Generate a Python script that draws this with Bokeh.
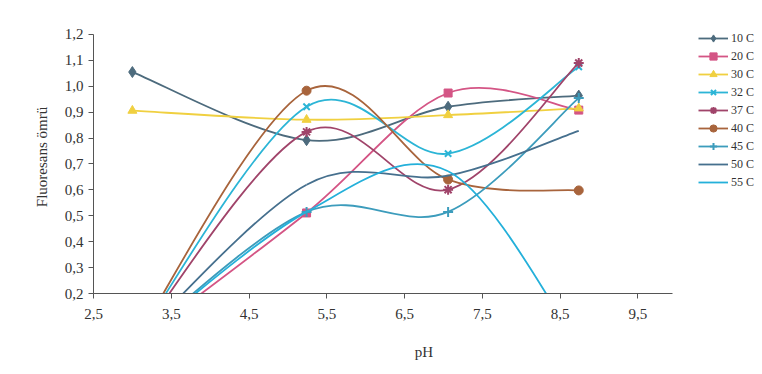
from bokeh.plotting import figure
from bokeh.models import Range1d, FixedTicker, Legend, LegendItem
from bokeh.embed import file_html
from bokeh.resources import INLINE

# ---- data ----
ph = [3.0, 5.24, 7.06, 8.74]
s10 = [1.055, 0.792, 0.921, 0.964]
s20 = [0.0, 0.511, 0.974, 0.908]
s30 = [0.906, 0.871, 0.889, 0.915]
s32 = [0.0, 0.921, 0.740, 1.075]
s37 = [0.0, 0.824, 0.601, 1.090]
s40 = [0.0, 0.983, 0.640, 0.598]
s45 = [0.0, 0.515, 0.515, 0.955]
s50 = [0.0, 0.620, 0.655, 0.828]
s55 = [0.0, 0.515, 0.672, 0.0]

series_names = ["10 C", "20 C", "30 C", "32 C", "37 C", "40 C", "45 C", "50 C", "55 C"]
series_values = [s10, s20, s30, s32, s37, s40, s45, s50, s55]

x_ticks = [2.5, 3.5, 4.5, 5.5, 6.5, 7.5, 8.5, 9.5]
x_tick_labels = ["2,5", "3,5", "4,5", "5,5", "6,5", "7,5", "8,5", "9,5"]
y_ticks = [0.2, 0.3, 0.4, 0.5, 0.6, 0.7, 0.8, 0.9, 1.0, 1.1, 1.2]
y_tick_labels = ["0,2", "0,3", "0,4", "0,5", "0,6", "0,7", "0,8", "0,9", "1,0", "1,1", "1,2"]

# ---- styles ----
colors = ["#4d6b7d", "#d45585", "#f0d040", "#2cb5d6", "#a0446a",
          "#a8643c", "#3c9cbc", "#46708e", "#24b0da"]
markers = ["diamond", "square", "triangle", "x", "asterisk", "circle", "cross", None, None]
msizes = [11, 8, 9, 9, 10, 9, 10, 0, 0]

FONT = "Liberation Serif"


def smooth_segments(xs, ys):
    """Excel-like smoothed line: cubic Bezier segments (Catmull-Rom, 1/6)."""
    n = len(xs)
    out = dict(x0=[], y0=[], x1=[], y1=[], cx0=[], cy0=[], cx1=[], cy1=[])
    for i in range(n - 1):
        pv = max(i - 1, 0)
        nx = min(i + 2, n - 1)
        out["x0"].append(xs[i]); out["y0"].append(ys[i])
        out["x1"].append(xs[i + 1]); out["y1"].append(ys[i + 1])
        out["cx0"].append(xs[i] + (xs[i + 1] - xs[pv]) / 6.0)
        out["cy0"].append(ys[i] + (ys[i + 1] - ys[pv]) / 6.0)
        out["cx1"].append(xs[i + 1] - (xs[nx] - xs[i]) / 6.0)
        out["cy1"].append(ys[i + 1] - (ys[nx] - ys[i]) / 6.0)
    return out


p = figure(width=754, height=366, output_backend="svg", toolbar_location=None,
           x_range=Range1d(2.5, 11.0), y_range=Range1d(0.2, 1.254),
           min_border_left=93, min_border_right=0, min_border_top=20, min_border_bottom=73)
p.outline_line_color = None
p.xgrid.visible = False
p.ygrid.visible = False
p.background_fill_color = "white"

items = []
for name, vals, c, m, ms in zip(series_names, series_values, colors, markers, msizes):
    seg = smooth_segments(ph, vals)
    r_line = p.bezier(x0=seg["x0"], y0=seg["y0"], x1=seg["x1"], y1=seg["y1"],
                      cx0=seg["cx0"], cy0=seg["cy0"], cx1=seg["cx1"], cy1=seg["cy1"],
                      line_color=c, line_width=1.8)
    rends = [r_line]
    if m is not None:
        if m in ("x", "cross", "asterisk"):
            r_m = p.scatter(ph, vals, marker=m, size=ms, line_color=c, line_width=2)
        else:
            r_m = p.scatter(ph, vals, marker=m, size=ms, fill_color=c, line_color=c)
        rends.append(r_m)
    items.append(LegendItem(label=name, renderers=rends))

legend = Legend(items=items, location=(605, 102), padding=0, margin=0,
                spacing=0, glyph_width=30, glyph_height=18, label_height=18,
                label_standoff=3, label_text_font=FONT, label_text_font_size="12px",
                label_text_color="#333333", border_line_color=None,
                background_fill_alpha=0)
p.add_layout(legend, "center")

xa = p.xaxis[0]
xa.ticker = FixedTicker(ticks=x_ticks)
xa.major_label_overrides = {t: l for t, l in zip(x_ticks, x_tick_labels)}
xa.bounds = (2.5, 9.95)
xa.minor_tick_line_color = None
xa.major_tick_in = 0
xa.major_tick_out = 5
xa.major_label_standoff = 10
xa.axis_label = "pH"
xa.axis_label_standoff = 22

ya = p.yaxis[0]
ya.ticker = FixedTicker(ticks=y_ticks)
ya.major_label_overrides = {t: l for t, l in zip(y_ticks, y_tick_labels)}
ya.bounds = (0.2, 1.2)
ya.minor_tick_line_color = None
ya.major_tick_in = 0
ya.major_tick_out = 5
ya.major_label_standoff = 5
ya.axis_label = "Fluoresans ömrü"
ya.axis_label_standoff = 12

for ax in (xa, ya):
    ax.axis_line_color = "#555555"
    ax.major_tick_line_color = "#555555"
    ax.major_label_text_font = FONT
    ax.major_label_text_font_size = "15px"
    ax.major_label_text_color = "#333333"
    ax.axis_label_text_font = FONT
    ax.axis_label_text_font_size = "15px"
    ax.axis_label_text_font_style = "normal"
    ax.axis_label_text_color = "#333333"

open("out.html", "w").write(file_html(p, INLINE))
